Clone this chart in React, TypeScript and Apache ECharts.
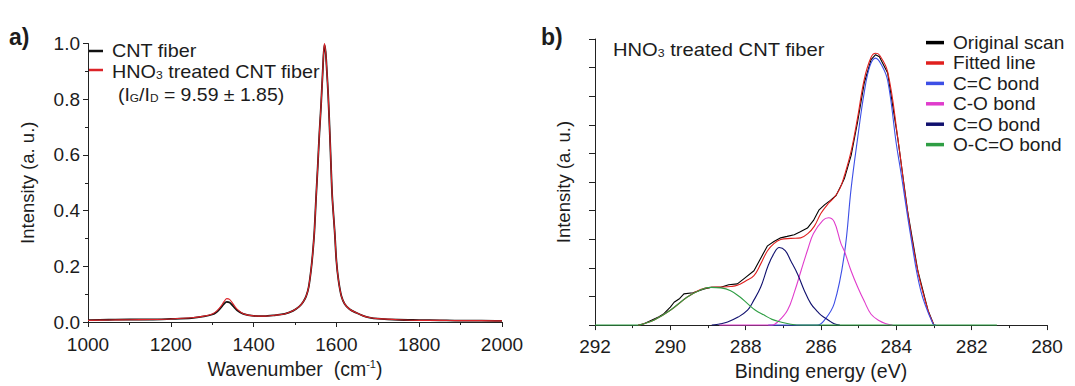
import React, { useEffect, useRef } from "react";
import * as echarts from "echarts";

// ---------- Panel a) Raman spectra ----------
const ramanWavenumber = [
  1000, 1050, 1100, 1150, 1200, 1250, 1280, 1300, 1310, 1320, 1328, 1335, 1342, 1350, 1360, 1375,
  1400, 1425, 1450, 1475, 1495, 1510, 1520, 1527, 1533, 1539, 1543, 1547, 1551, 1555, 1559, 1563,
  1567, 1571, 1574, 1577, 1580, 1584, 1587, 1590, 1596, 1600, 1605, 1612, 1620, 1632, 1648, 1665,
  1680, 1700, 1750, 1800, 1850, 1900, 1950, 2000,
];
const cntFiber = [
  0.007, 0.008, 0.009, 0.009, 0.011, 0.014, 0.02, 0.027, 0.035, 0.05, 0.064, 0.072, 0.07, 0.058, 0.042, 0.029,
  0.022, 0.021, 0.024, 0.029, 0.04, 0.055, 0.073, 0.093, 0.125, 0.19, 0.25, 0.33, 0.45, 0.56, 0.68, 0.78,
  0.9, 0.995, 0.97, 0.9, 0.82, 0.68, 0.56, 0.45, 0.32, 0.22, 0.15, 0.093, 0.065, 0.046, 0.033, 0.022,
  0.016, 0.012, 0.008, 0.007, 0.006, 0.005, 0.005, 0.004,
];
const hno3Fiber = [
  0.006, 0.007, 0.008, 0.009, 0.011, 0.015, 0.021, 0.029, 0.038, 0.054, 0.072, 0.084, 0.081, 0.066, 0.046, 0.03,
  0.022, 0.021, 0.024, 0.029, 0.04, 0.055, 0.073, 0.093, 0.125, 0.19, 0.25, 0.33, 0.45, 0.56, 0.68, 0.78,
  0.9, 1.0, 0.97, 0.9, 0.82, 0.68, 0.56, 0.45, 0.32, 0.22, 0.15, 0.093, 0.065, 0.046, 0.033, 0.022,
  0.016, 0.012, 0.008, 0.006, 0.006, 0.005, 0.005, 0.004,
];
const ramanNames = ["CNT fiber", "HNO{sub|3} treated CNT fiber"];

// ---------- Panel b) XPS C1s fit ----------
const originalScan = [
  [290.85, 0], [290.7, 0.05], [290.5, 0.17], [290.3, 0.29], [290.17, 0.4], [290.0, 0.63], [289.9, 0.8],
  [289.75, 0.93], [289.64, 1.09], [289.4, 1.13], [289.1, 1.26], [288.9, 1.32], [288.66, 1.32], [288.45, 1.41],
  [288.22, 1.44], [288.0, 1.67], [287.78, 1.9], [287.6, 2.34], [287.42, 2.77], [287.25, 2.92], [287.07, 3.05],
  [286.9, 3.1], [286.71, 3.16], [286.55, 3.26], [286.36, 3.39], [286.2, 3.66], [286.05, 4.03], [285.9, 4.21],
  [285.75, 4.36], [285.6, 4.53], [285.45, 4.92], [285.38, 5.12], [285.2, 5.93], [285.03, 7.09], [284.85, 8.47],
  [284.67, 9.28], [284.55, 9.45], [284.45, 9.38], [284.23, 8.81], [283.96, 6.51], [283.7, 3.98], [283.43, 1.9],
  [283.16, 0.52], [283.0, 0.0],
];
const fittedLine = [
  [290.85, 0], [290.7, 0.05], [290.44, 0.17], [290.0, 0.52], [289.55, 0.98], [289.2, 1.24], [288.93, 1.32],
  [288.66, 1.33], [288.4, 1.35], [288.22, 1.39], [288.0, 1.54], [287.78, 1.73], [287.6, 2.14], [287.42, 2.6],
  [287.25, 2.85], [287.07, 2.99], [286.8, 3.03], [286.54, 3.05], [286.35, 3.2], [286.18, 3.45], [286.0, 3.91],
  [285.8, 4.26], [285.65, 4.46], [285.5, 4.77], [285.38, 5.22], [285.2, 6.08], [285.03, 7.24], [284.85, 8.6],
  [284.67, 9.36], [284.55, 9.5], [284.45, 9.44], [284.23, 8.85], [283.96, 6.53], [283.7, 3.96], [283.43, 1.89],
  [283.16, 0.52], [283.0, 0.0],
];
const ccBond = [
  [287.4, 0], [286.1, 0], [285.91, 0.17], [285.65, 0.75], [285.38, 2.48], [285.2, 4.78], [285.03, 6.51],
  [284.85, 8.15], [284.7, 9.06], [284.55, 9.33], [284.4, 9.11], [284.23, 8.55], [284.0, 6.33], [283.88, 5.35],
  [283.61, 3.05], [283.35, 1.2], [283.03, 0.05], [282.95, 0],
];
const coBond = [
  [288.7, 0], [287.3, 0], [287.15, 0.11], [286.89, 0.52], [286.7, 1.18], [286.53, 1.9], [286.35, 2.65],
  [286.2, 3.2], [285.95, 3.66], [285.8, 3.75], [285.65, 3.61], [285.47, 2.85], [285.38, 2.59], [285.2, 1.89],
  [285.03, 1.34], [284.85, 0.83], [284.67, 0.38], [284.45, 0.15], [284.27, 0.05], [284.1, 0],
];
const c_oBond = [
  [288.9, 0], [288.66, 0.05], [288.48, 0.11], [288.2, 0.28], [287.95, 0.52], [287.8, 0.83], [287.6, 1.33],
  [287.4, 2.09], [287.25, 2.5], [287.11, 2.71], [286.95, 2.6], [286.8, 2.24], [286.62, 1.78], [286.45, 1.23],
  [286.27, 0.75], [286.1, 0.48], [286.0, 0.35], [285.8, 0.17], [285.65, 0.05], [285.5, 0],
];
const ocoBond = [
  [292, 0], [290.85, 0], [290.7, 0.05], [290.44, 0.17], [290.0, 0.52], [289.55, 0.98], [289.2, 1.23],
  [288.93, 1.32], [288.66, 1.3], [288.4, 1.2], [288.15, 0.98], [287.95, 0.75], [287.75, 0.53], [287.51, 0.35],
  [287.3, 0.2], [287.07, 0.11], [286.8, 0.03], [286.5, 0], [281.33, 0],
];
const xpsNames = ["Original scan", "Fitted line", "C=C bond", "C-O bond", "C=O bond", "O-C=O bond"];
const xpsColors = ["#000000", "#e0201e", "#3d4fe6", "#e03ccc", "#10106e", "#2f9e44"];
const ramanColors = ["#111111", "#dc2328"];

const FONT = "'Liberation Sans', Arial, sans-serif";
const TXT = "#1c1c1c";

export default function App() {
  const ref = useRef<HTMLDivElement>(null);
  useEffect(() => {
    if (!ref.current) return;
    const chart = echarts.init(ref.current, null, { renderer: "svg" });
    const axisLine = { show: true, lineStyle: { color: "#222", width: 1 } };
    const tick = { show: true, length: 5, lineStyle: { color: "#222", width: 1 } };
    const minor = { show: true, splitNumber: 2, length: 3, lineStyle: { color: "#222", width: 1 } };
    const rich = {
      sup: { fontSize: 11, verticalAlign: "top", fontFamily: FONT, color: TXT, padding: [0, 0, 6, 0] },
      sub: { fontSize: 11, verticalAlign: "bottom", fontFamily: FONT, color: TXT, padding: [6, 0, 0, 0] },
    };
    const xpsSets = [originalScan, fittedLine, ccBond, coBond, c_oBond, ocoBond];

    const g: any[] = [];
    ramanNames.forEach((n, i) => {
      const y = i === 0 ? 51 : 70;
      g.push({
        type: "line",
        shape: { x1: 89, y1: y, x2: 103, y2: y },
        style: { stroke: ramanColors[i], lineWidth: 2.5 },
      });
      g.push({
        type: "text",
        x: 112,
        y: i === 0 ? 51 : 72,
        scaleX: 1.1,
        style: { text: n, fontSize: 18, fontFamily: FONT, fill: TXT, verticalAlign: "middle", rich },
      });
    });
    g.push({
      type: "text",
      x: 118,
      y: 95,
      scaleX: 1.08,
      style: {
        text: "(I{sub|G}/I{sub|D} = 9.59 ± 1.85)",
        fontSize: 18,
        fontFamily: FONT,
        fill: TXT,
        verticalAlign: "middle",
        rich,
      },
    });
    xpsNames.forEach((n, i) => {
      const y = 42.6 + i * 20.4;
      g.push({
        type: "line",
        shape: { x1: 926, y1: y, x2: 944, y2: y },
        style: { stroke: xpsColors[i], lineWidth: 3.5 },
      });
      g.push({
        type: "text",
        x: 953,
        y,
        scaleX: 1.06,
        style: { text: n, fontSize: 18, fontFamily: FONT, fill: TXT, verticalAlign: "middle" },
      });
    });
    g.push({
      type: "text",
      x: 613,
      y: 49.5,
      scaleX: 1.12,
      style: {
        text: "HNO{sub|3} treated CNT fiber",
        fontSize: 18,
        fontFamily: FONT,
        fill: TXT,
        verticalAlign: "middle",
        rich,
      },
    });
    g.push({
      type: "text",
      x: 9,
      y: 37,
      style: { text: "a)", fontSize: 23, fontWeight: "bold", fontFamily: FONT, fill: TXT, verticalAlign: "middle" },
    });
    g.push({
      type: "text",
      x: 541,
      y: 37,
      style: { text: "b)", fontSize: 23, fontWeight: "bold", fontFamily: FONT, fill: TXT, verticalAlign: "middle" },
    });

    chart.setOption({
      animation: false,
      textStyle: { fontFamily: FONT },
      grid: [
        { left: 88, top: 43.5, width: 414, height: 278.5 },
        { left: 595, top: 39, width: 452, height: 289.3 },
      ],
      xAxis: [
        {
          type: "value",
          gridIndex: 0,
          min: 1000,
          max: 2000,
          interval: 200,
          axisLine,
          axisTick: tick,
          minorTick: minor,
          splitLine: { show: false },
          axisLabel: { fontSize: 19, color: TXT, margin: 13, fontFamily: FONT, formatter: (v: number) => String(v) },
          name: "Wavenumber  (cm{sup|-1})",
          nameLocation: "middle",
          nameGap: 35,
          nameTextStyle: { fontSize: 19.5, color: TXT, fontFamily: FONT, rich },
        },
        {
          type: "value",
          gridIndex: 1,
          min: 280,
          max: 292,
          interval: 2,
          inverse: true,
          axisLine,
          axisTick: tick,
          minorTick: minor,
          splitLine: { show: false },
          axisLabel: { fontSize: 19, color: TXT, margin: 12, fontFamily: FONT },
          name: "Binding energy (eV)",
          nameLocation: "middle",
          nameGap: 35,
          nameTextStyle: { fontSize: 19.5, color: TXT, fontFamily: FONT },
        },
      ],
      yAxis: [
        {
          type: "value",
          gridIndex: 0,
          min: 0,
          max: 1,
          interval: 0.2,
          axisLine,
          axisTick: tick,
          minorTick: minor,
          splitLine: { show: false },
          axisLabel: {
            fontSize: 19,
            color: TXT,
            margin: 8,
            fontFamily: FONT,
            formatter: (v: number) => v.toFixed(1),
          },
          name: "Intensity (a. u.)",
          nameLocation: "middle",
          nameGap: 51,
          nameTextStyle: { fontSize: 18.5, color: TXT, fontFamily: FONT },
        },
        {
          type: "value",
          gridIndex: 1,
          min: 0,
          max: 10,
          interval: 1,
          axisLine,
          axisTick: { ...tick, length: 6 },
          splitLine: { show: false },
          axisLabel: { show: false },
          name: "Intensity (a. u.)",
          nameLocation: "middle",
          nameGap: 22,
          nameTextStyle: { fontSize: 18.5, color: TXT, fontFamily: FONT },
        },
      ],
      graphic: g,
      series: [
        {
          type: "line",
          xAxisIndex: 0,
          yAxisIndex: 0,
          name: "CNT fiber",
          data: ramanWavenumber.map((w, i) => [w, cntFiber[i]]),
          showSymbol: false,
          lineStyle: { color: ramanColors[0], width: 1.8 },
          smooth: 0.3,
        },
        {
          type: "line",
          xAxisIndex: 0,
          yAxisIndex: 0,
          name: "HNO3 treated CNT fiber",
          data: ramanWavenumber.map((w, i) => [w, hno3Fiber[i]]),
          showSymbol: false,
          lineStyle: { color: ramanColors[1], width: 1.1 },
          smooth: 0.3,
        },
        ...xpsSets.map((d, i) => ({
          type: "line",
          xAxisIndex: 1,
          yAxisIndex: 1,
          name: xpsNames[i],
          data: d,
          showSymbol: false,
          smooth: i === 0 ? false : 0.4,
          lineStyle: { color: xpsColors[i], width: 1.1 },
        })),
      ],
    });
    return () => chart.dispose();
  }, []);
  return <div ref={ref} style={{ width: 1075, height: 386, position: "absolute", left: 0, top: 0 }} />;
}
